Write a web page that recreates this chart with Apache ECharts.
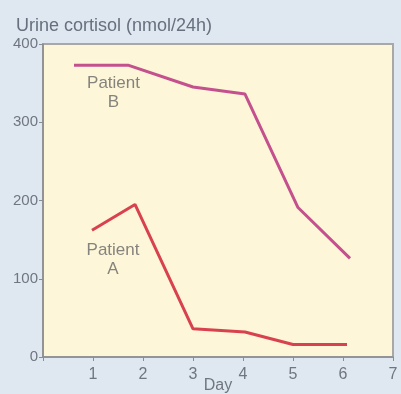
<!DOCTYPE html>
<html>
<head>
<meta charset="utf-8">
<script src="https://cdn.jsdelivr.net/npm/echarts@6/dist/echarts.min.js"></script>
<style>
  html, body { margin: 0; padding: 0; background: #dfe7f1; }
  #chart { width: 401px; height: 394px; }
</style>
</head>
<body>
<div id="chart"></div>
<script>
// valori
const dayTicks = [0, 1, 2, 3, 4, 5, 6, 7];
const cortisolTicks = [0, 100, 200, 300, 400];
const patientB = [[0.62, 373], [1.7, 373], [3.0, 345], [4.04, 336], [5.1, 191], [6.14, 126]];
const patientA = [[0.98, 162], [1.84, 195], [3.0, 36], [4.04, 32], [5.0, 16], [6.08, 16]];
const seriesLabels = [
    { name: 'Patient\nB', value: [1.41, 338] },
    { name: 'Patient\nA', value: [1.40, 124] }
];

const chart = echarts.init(document.getElementById('chart'));
const grey = '#8a8d92';
const textGrey = '#707680';

const option = {
    backgroundColor: '#dfe7f1',
    title: {
        text: 'Urine cortisol (nmol/24h)',
        left: 11,
        top: 12,
        textStyle: { fontSize: 18, fontWeight: 'normal', color: '#66707e', fontFamily: 'Liberation Sans' }
    },
    grid: {
        left: 43, right: 8, top: 44, bottom: 37,
        outerBoundsMode: 'none',
        containLabel: false,
        show: true,
        backgroundColor: '#fdf6d8',
        borderColor: '#a8a8a6',
        borderWidth: 2
    },
    xAxis: {
        type: 'value',
        min: 0, max: 7, interval: 1,
        name: 'Day',
        nameLocation: 'middle',
        nameGap: 21,
        nameMoveOverlap: false,
        nameTextStyle: { fontSize: 16, color: textGrey, fontFamily: 'Liberation Sans' },
        axisLine: { show: true, lineStyle: { color: grey, width: 1.5 } },
        axisTick: { show: true, length: 4, lineStyle: { color: grey } },
        axisLabel: {
            fontSize: 16, color: textGrey, fontFamily: 'Liberation Sans', margin: 10,
            formatter: v => (v === 0 ? '' : String(v))
        },
        splitLine: { show: false }
    },
    yAxis: {
        type: 'value',
        min: 0, max: 400, interval: 100,
        axisLine: { show: true, lineStyle: { color: grey, width: 1.5 } },
        axisTick: { show: true, length: 4, lineStyle: { color: grey } },
        axisLabel: { fontSize: 15, color: textGrey, fontFamily: 'Liberation Sans', margin: 5 },
        splitLine: { show: false }
    },
    series: [
        {
            name: 'Patient B',
            type: 'line',
            data: patientB,
            symbol: 'none',
            lineStyle: { color: '#c4508d', width: 3 }
        },
        {
            name: 'Patient A',
            type: 'line',
            data: patientA,
            symbol: 'none',
            lineStyle: { color: '#d8424f', width: 3 }
        },
        {
            type: 'scatter',
            data: seriesLabels,
            symbolSize: 0,
            silent: true,
            label: {
                show: true,
                position: 'inside',
                formatter: p => p.name,
                color: '#666666',
                fontSize: 17,
                lineHeight: 19,
                fontFamily: 'Liberation Sans',
                align: 'center',
                verticalAlign: 'middle'
            }
        }
    ]
};

chart.setOption(option);
</script>
</body>
</html>
